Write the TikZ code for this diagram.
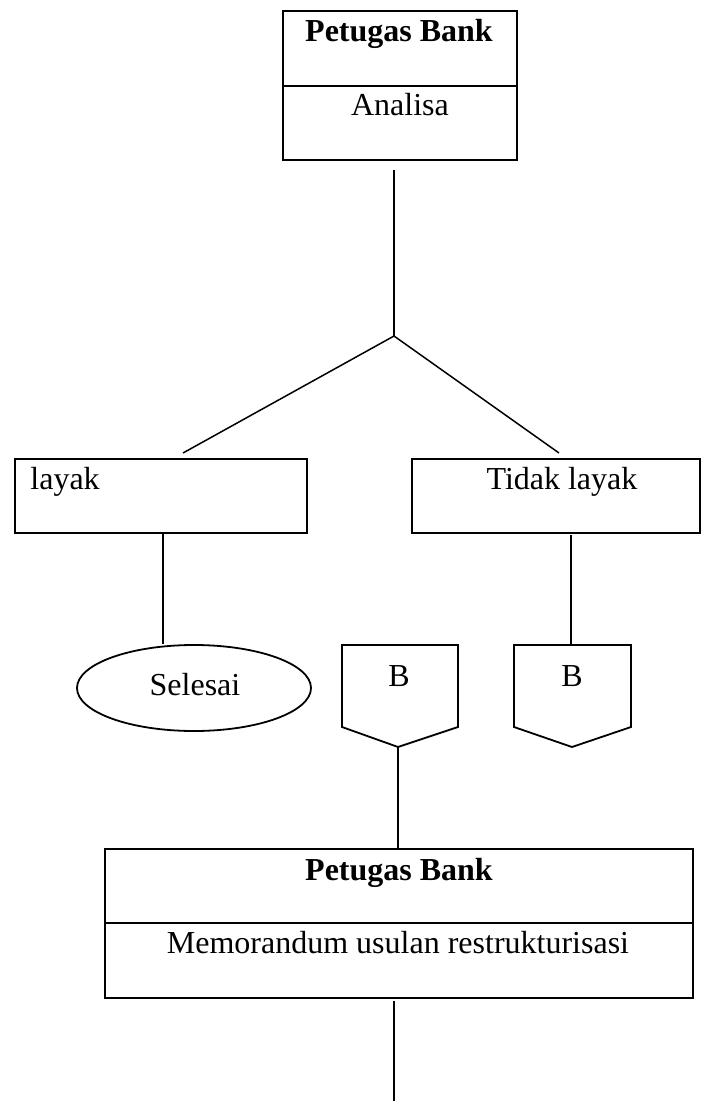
\documentclass[tikz,border=0pt]{standalone}
\usepackage{fontspec}
\setmainfont{Liberation Serif}
\usetikzlibrary{shapes.geometric}
\begin{document}
\begin{tikzpicture}[x=0.5pt,y=-0.5pt,
  box/.style={draw,line width=0.9pt,rectangle,inner sep=0pt},
  conn/.style={line width=0.75pt},
  lbl/.style={font=\fontsize{16}{19}\selectfont,inner sep=0pt,anchor=base},
  lblb/.style={lbl,font=\fontsize{16}{19}\selectfont\bfseries}]
\useasboundingbox (0,0) rectangle (702,1103);
% top box
\node[box,minimum width=117pt,minimum height=74.5pt] (top) at (400,85.5) {};
\draw[line width=0.9pt] (top.west |- 0,86) -- (top.east |- 0,86);
\node[lblb] (toph) at (399,41) {Petugas Bank};
\node[lbl] (topt) at (400,115) {Analisa};
% junction
\coordinate (t0) at (394,170);
\coordinate (j) at (394,336);
\coordinate (bl) at (183,453);
\coordinate (br) at (559,453);
\draw[conn] (t0) -- (j);
\draw[conn] (j) -- (bl);
\draw[conn] (j) -- (br);
% decision boxes
\node[box,minimum width=146pt,minimum height=37pt] (layak) at (161,496) {};
\node[lbl,anchor=base west] (layakt) at (30,489) {layak};
\node[box,minimum width=144pt,minimum height=37pt] (tidak) at (556,496) {};
\node[lbl] (tidakt) at (562,489) {Tidak layak};
% selesai
\node[draw,line width=0.9pt,ellipse,inner sep=0pt,minimum width=117pt,minimum height=43pt] (selesai) at (194,688) {};
\node[lbl] (selesait) at (195,695) {Selesai};
\draw[conn] (163,533) -- (selesai.north -| 163,0);
% off-page connectors
\draw[line width=0.9pt] (342,645) -- (458,645) -- (458,727) -- (398,747) -- (342,727) -- cycle;
\coordinate (b1tip) at (398,747);
\node[lbl] (b1t) at (399,686) {B};
\draw[line width=0.9pt] (514,645) -- (631,645) -- (631,727) -- (572,747) -- (514,727) -- cycle;
\coordinate (b2top) at (571,645);
\node[lbl] (b2t) at (572,686) {B};
\coordinate (tb) at (571,535);
\draw[conn] (tb) -- (b2top);
% bottom box
\node[box,minimum width=294pt,minimum height=74.5pt] (bot) at (399,923.5) {};
\draw[line width=0.9pt] (bot.west |- 0,923) -- (bot.east |- 0,923);
\node[lblb] (both) at (399,880) {Petugas Bank};
\node[lbl] (bott) at (398,953) {Memorandum usulan restrukturisasi};
\draw[conn] (b1tip) -- (bot.north -| b1tip);
\coordinate (e0) at (394,1001);
\coordinate (e1) at (394,1101);
\draw[conn] (e0) -- (e1);
\end{tikzpicture}
\end{document}
